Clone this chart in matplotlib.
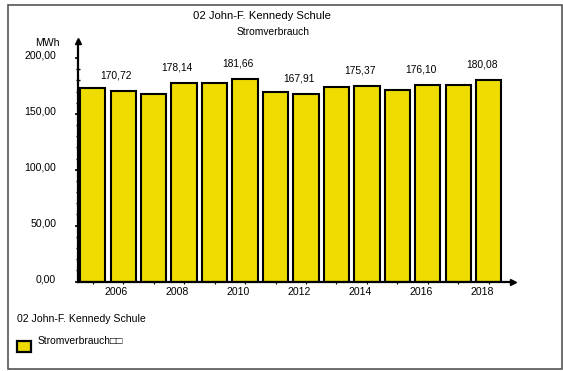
import matplotlib
matplotlib.use("Agg")
import matplotlib.pyplot as plt
from matplotlib.patches import Rectangle
import matplotlib.transforms as mtransforms

plt.rcParams['font.family'] = ['Liberation Sans', 'DejaVu Sans']

years = [2005, 2006, 2007, 2008, 2009, 2010, 2011, 2012, 2013, 2014, 2015, 2016, 2017, 2018]
values = [173.0, 170.72, 168.1, 178.14, 177.5, 181.66, 169.6, 167.91, 174.0, 175.37, 171.4, 176.10, 176.0, 180.08]
labeled_years = [2006, 2008, 2010, 2012, 2014, 2016, 2018]
yticks = [0, 50, 100, 150, 200]
ytick_labels = ["0,00", "50,00", "100,00", "150,00", "200,00"]
title = "02 John-F. Kennedy Schule"
subtitle = "Stromverbrauch"
unit = "MWh"
legend_title = "02 John-F. Kennedy Schule"
legend_label = "Stromverbrauch\u25a1\u25a1"

W, H = 563, 371
DPI = 100
fig = plt.figure(figsize=(W / DPI, H / DPI), dpi=DPI)

def fx(px):
    return px / W

def fy(py):
    return 1 - py / H

# outer frame
fig.patches.append(Rectangle((fx(8), fy(369)), fx(562) - fx(8), fy(5) - fy(369),
                             transform=fig.transFigure, fill=False,
                             edgecolor='#555555', linewidth=1.2))

ax_left, ax_right = 77.7, 513
ax_top, ax_bottom = 41, 281.5
ax = fig.add_axes([fx(ax_left), fy(ax_bottom), fx(ax_right) - fx(ax_left), fy(ax_top) - fy(ax_bottom)])
ax.patch.set_alpha(0)

xpos = list(range(len(years)))
ax.bar(xpos, values, width=0.83, color='#EEDC00', edgecolor='black', linewidth=1.5, zorder=2)

pitch = 30.46
ax.set_xlim(-(92.75 - ax_left) / pitch, (ax_right - 92.75) / pitch)
ax.set_ylim(0, (ax_bottom - ax_top) / 1.117)

for s in ['top', 'right']:
    ax.spines[s].set_visible(False)
for s in ['left', 'bottom']:
    ax.spines[s].set_linewidth(1.6)
    ax.spines[s].set_color('black')
    ax.spines[s].set_zorder(3)

# arrow heads
ax.plot([0], [1], marker='^', color='black', markersize=4, transform=ax.transAxes, clip_on=False, zorder=4)
ax.plot([1], [0], marker='>', color='black', markersize=4, transform=ax.transAxes, clip_on=False, zorder=4)

# y ticks
ax.set_yticks(yticks)
ax.set_yticklabels(ytick_labels)
ax.set_yticks(list(range(0, 210, 10)), minor=True)
ax.tick_params(axis='y', which='major', direction='out', length=2.5, width=1.2, pad=13, labelsize=7.6)
ax.tick_params(axis='y', which='minor', direction='inout', length=3, width=1.0)
yoff = mtransforms.ScaledTranslation(0, 3.5 / DPI, fig.dpi_scale_trans)
for lab in ax.get_yticklabels():
    lab.set_transform(lab.get_transform() + yoff)

# x ticks
ax.set_xticks(xpos)
ax.set_xticklabels([str(y) if y in labeled_years else "" for y in years])
ax.tick_params(axis='x', which='major', direction='out', length=1.5, width=0.8, pad=2.5, labelsize=7.6)
xoff = mtransforms.ScaledTranslation(-7 / DPI, 0, fig.dpi_scale_trans)
for lab in ax.get_xticklabels():
    lab.set_transform(lab.get_transform() + xoff)

# value labels
for x, y, v in zip(xpos, years, values):
    if y in labeled_years:
        ax.annotate(f"{v:.2f}".replace('.', ','), xy=(x, v), xytext=(-7 * 0.72, 15.5 * 0.72),
                    textcoords='offset points', ha='center', va='center', fontsize=7.4)

# titles
fig.text(fx(262), fy(16), title, ha='center', va='center', fontsize=8.1)
fig.text(fx(273), fy(31.7), subtitle, ha='center', va='center', fontsize=7.4)
fig.text(fx(60), fy(43.5), unit, ha='right', va='center', fontsize=7.6)

# legend
fig.text(fx(17), fy(318.5), legend_title, ha='left', va='center', fontsize=7.6)
fig.patches.append(Rectangle((fx(17), fy(351.5)), fx(31) - fx(17), fy(340.5) - fy(351.5),
                             transform=fig.transFigure, facecolor='#EEDC00',
                             edgecolor='black', linewidth=1.6))
fig.text(fx(37.5), fy(341.5), legend_label, ha='left', va='center', fontsize=7.4)

fig.savefig('out.png', dpi=DPI)
